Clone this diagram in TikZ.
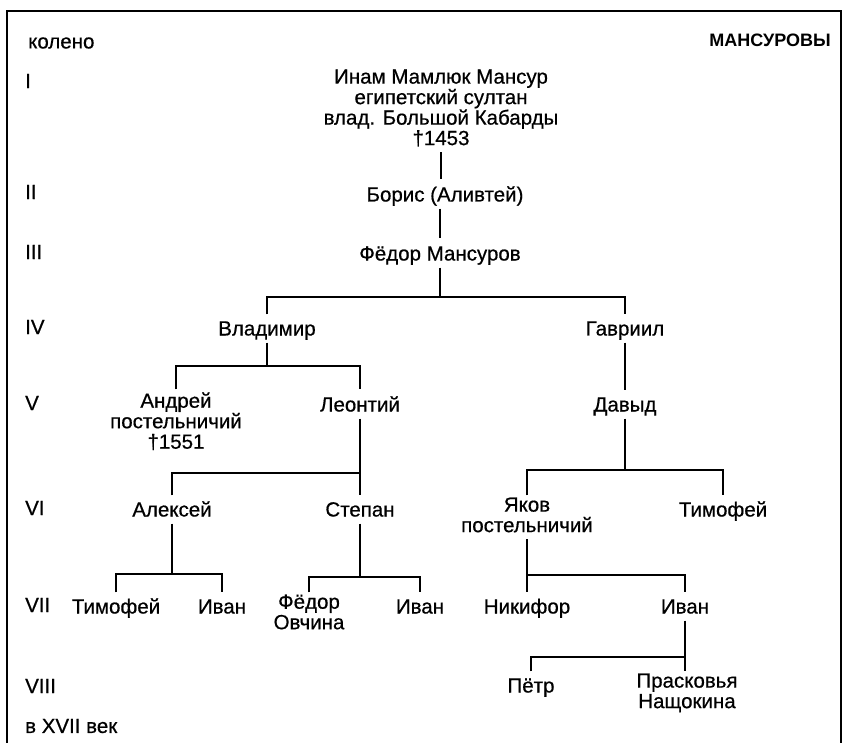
\documentclass[tikz,border=0pt]{standalone}
\usepackage{fontspec}
\setmainfont{Liberation Sans}
\newfontfamily\diagfont{Liberation Sans}[FakeBold=0.6]
\begin{document}
\begin{tikzpicture}[x=1pt,y=-1pt,
  every node/.style={inner sep=0pt, align=center,
    font={\diagfont\fontsize{20.5}{20.5}\selectfont\lineskiplimit=-30pt\relax}},
  person/.style={anchor=north, yshift=10.7pt,
    execute at begin node={\rule{0pt}{19pt}},
    execute at end node={\rule[-5pt]{0pt}{5pt}}},
  lab/.style={anchor=west},
  conn/.style={line width=1.1pt},
  frame/.style={line width=2pt}]
\useasboundingbox (0,0) rectangle (845,743);
\draw[frame] (7,745) -- (7,11) -- (841,11) -- (841,745);

% header
\node[lab] (koleno) at (28,43) {колено};
\node[anchor=east, font={\fontsize{18}{18}\selectfont\bfseries}] (title) at (831,40) {МАНСУРОВЫ};

% generation numerals
\node[lab] (g1) at (25,81) {I};
\node[lab] (g2) at (25,192) {II};
\node[lab] (g3) at (25,252) {III};
\node[lab] (g4) at (25,327) {IV};
\node[lab] (g5) at (25,403) {V};
\node[lab] (g6) at (25,508) {VI};
\node[lab] (g7) at (25,605) {VII};
\node[lab] (g8) at (25,686) {VIII};
\node[lab] (cent) at (25,726) {в XVII век};

% persons
\node[person] (inam) at (441,80) {Инам Мамлюк Мансур\\египетский султан\\влад. Большой Кабарды\\†1453};
\node[person] (boris) at (445,193) {Борис (Аливтей)};
\node[person] (fed) at (440,252) {Фёдор Мансуров};
\node[person] (vlad) at (267,327) {Владимир};
\node[person] (gav) at (625,327) {Гавриил};
\node[person] (andr) at (176,403) {Андрей\\постельничий\\†1551};
\node[person] (leon) at (360,403) {Леонтий};
\node[person] (dav) at (625,403) {Давыд};
\node[person] (alek) at (172,508) {Алексей};
\node[person] (step) at (360,508) {Степан};
\node[person] (jak) at (527,508) {Яков\\постельничий};
\node[person] (tim) at (723,508) {Тимофей};
\node[person] (tim7) at (116,605) {Тимофей};
\node[person] (iva7a) at (222,605) {Иван};
\node[person] (fedo) at (309,605) {Фёдор\\Овчина};
\node[person] (iva7b) at (420,605) {Иван};
\node[person] (nik) at (527,605) {Никифор};
\node[person] (iva7c) at (685,605) {Иван};
\node[person] (pet) at (531,684) {Пётр};
\node[person] (prask) at (687,684) {Прасковья\\Нащокина};

% junction points
\coordinate (b3) at (fed |- 0,297);
\coordinate (b4) at (vlad |- 0,366);
\coordinate (b5) at (leon |- 0,473);
\coordinate (b6) at (dav |- 0,470);
\coordinate (b7) at (alek |- 0,574);
\coordinate (b8) at (step |- 0,577);
\coordinate (b9) at (jak |- 0,575);
\coordinate (b10) at (iva7c |- 0,657);

% connectors
\draw[conn] ([yshift=-2pt]inam.south) -- ([yshift=3pt]inam.south |- boris.north);
\draw[conn] ([yshift=-2pt]boris.south -| fed.south) -- ([yshift=3pt]fed.north);
\draw[conn] ([yshift=-2pt]fed.south) -- (b3);
\draw[conn] ([yshift=2pt]vlad.north) |- (b3) -| ([yshift=2pt]gav.north);
\draw[conn] ([yshift=-2pt]vlad.south) -- (b4);
\draw[conn] ([yshift=3pt]andr.north) |- (b4) -| ([yshift=3pt]leon.north);
\draw[conn] ([yshift=-2pt]gav.south) -- ([yshift=2pt]dav.north);
\draw[conn] ([yshift=-2pt]leon.south) -- ([yshift=2pt]step.north);
\draw[conn] ([yshift=2pt]alek.north) |- (b5);
\draw[conn] ([yshift=-2pt]dav.south) -- (b6);
\draw[conn] ([yshift=2pt]jak.north) |- (b6) -| ([yshift=2pt]tim.north);
\draw[conn] ([yshift=-2pt]alek.south) -- (b7);
\draw[conn] ([yshift=2pt]tim7.north) |- (b7) -| ([yshift=2pt]iva7a.north);
\draw[conn] ([yshift=-2pt]step.south) -- (b8);
\draw[conn] ([yshift=2pt]fedo.north) |- (b8) -| ([yshift=2pt]iva7b.north);
\draw[conn] ([yshift=-2pt]jak.south) -- ([yshift=2pt]nik.north);
\draw[conn] (b9) -| ([yshift=2pt]iva7c.north);
\draw[conn] ([yshift=-2pt]iva7c.south) -- ([yshift=2pt]iva7c.south |- prask.north);
\draw[conn] ([yshift=2pt]pet.north) |- (b10);
\end{tikzpicture}
\end{document}
